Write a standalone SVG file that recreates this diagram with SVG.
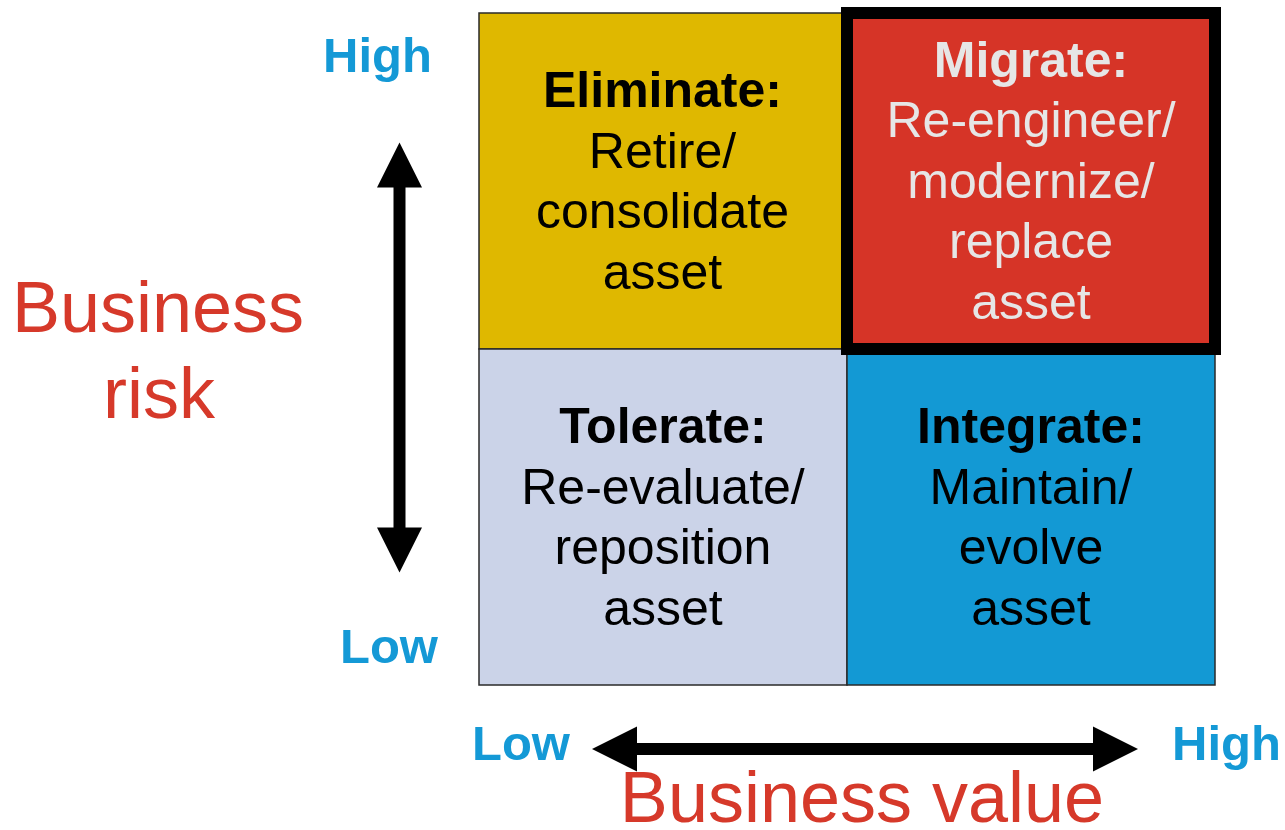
<svg xmlns="http://www.w3.org/2000/svg" width="1285" height="830" viewBox="0 0 1285 830">
<style>
.q{stroke:#2a2a2a;stroke-width:1.5}
.t{font-family:"Liberation Sans",Arial,sans-serif;font-size:50px;text-anchor:middle;fill:#000}
.b{font-weight:bold}
.w{fill:#E6E6E6}
.ax{font-family:"Liberation Sans",Arial,sans-serif;font-size:49px;font-weight:bold;fill:#1499D6}
.rl{font-family:"Liberation Sans",Arial,sans-serif;font-size:72px;fill:#D6392A;text-anchor:middle}
</style>
<rect width="1285" height="830" fill="#fff"/>
<g id="eliminate">
<rect class="q" x="479" y="13" width="367" height="336" fill="#DFB800"/>
<text class="t b" x="662.5" y="107">Eliminate:</text>
<text class="t" x="662.5" y="168">Retire/</text>
<text class="t" x="662.5" y="228">consolidate</text>
<text class="t" x="662.5" y="289">asset</text>
</g>
<g id="tolerate">
<rect class="q" x="479" y="349" width="368" height="336" fill="#CBD3E8"/>
<text class="t b" x="663" y="443">Tolerate:</text>
<text class="t" x="663" y="504">Re-evaluate/</text>
<text class="t" x="663" y="564">reposition</text>
<text class="t" x="663" y="625">asset</text>
</g>
<g id="integrate">
<rect class="q" x="847" y="349" width="368" height="336" fill="#1399D4"/>
<text class="t b" x="1031" y="443">Integrate:</text>
<text class="t" x="1031" y="504">Maintain/</text>
<text class="t" x="1031" y="564">evolve</text>
<text class="t" x="1031" y="625">asset</text>
</g>
<g id="migrate">
<rect x="847" y="13" width="368" height="336" fill="#D63427" stroke="#000" stroke-width="12"/>
<text class="t b w" x="1031" y="77">Migrate:</text>
<text class="t w" x="1031" y="137">Re-engineer/</text>
<text class="t w" x="1031" y="198">modernize/</text>
<text class="t w" x="1031" y="258">replace</text>
<text class="t w" x="1031" y="319">asset</text>
</g>
<g id="connectors">
<polygon points="399.5,142.5 422,187.5 405.5,187.5 405.5,527.5 422,527.5 399.5,572.5 377,527.5 393.5,527.5 393.5,187.5 377,187.5" fill="#000"/>
<polygon points="592,749 637,726.5 637,743 1093,743 1093,726.5 1138,749 1093,771.5 1093,755 637,755 637,771.5" fill="#000"/>
</g>
<g id="labels">
<text class="ax" x="323" y="72">High</text>
<text class="ax" x="340" y="663">Low</text>
<text class="ax" x="472" y="760">Low</text>
<text class="ax" x="1172" y="760">High</text>
<text class="rl" x="158" y="332">Business</text>
<text class="rl" x="159" y="418">risk</text>
<text class="rl" x="862" y="822">Business value</text>
</g>
</svg>
